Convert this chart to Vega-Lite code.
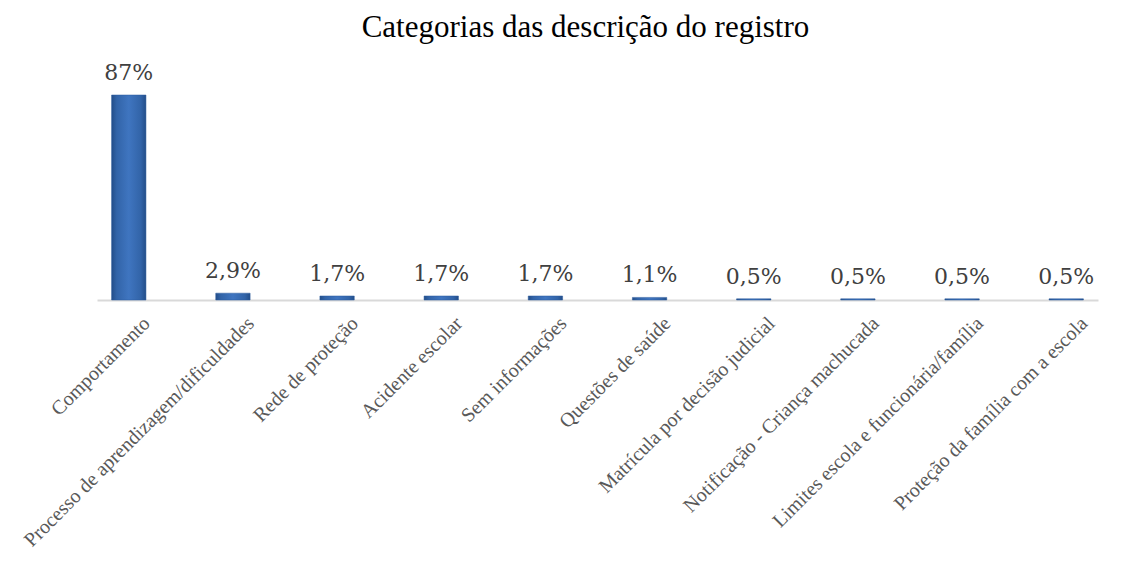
{
  "$schema": "https://vega.github.io/schema/vega-lite/v6.json",
  "autosize": "none",
  "width": 1001,
  "height": 205,
  "padding": {"left": 97, "top": 95, "right": 28, "bottom": 265},
  "background": "white",
  "view": {"stroke": null},
  "title": {
    "text": "Categorias das descrição do registro",
    "font": "Liberation Serif",
    "fontSize": 31,
    "fontWeight": "normal",
    "color": "#000000",
    "anchor": "middle",
    "dx": -12,
    "offset": 18
  },
  "data": {
    "values": [
      {"categoria": "Comportamento", "valor": 87, "rotulo": "87%"},
      {"categoria": "Processo de aprendizagem/dificuldades", "valor": 2.9, "rotulo": "2,9%"},
      {"categoria": "Rede de proteção", "valor": 1.7, "rotulo": "1,7%"},
      {"categoria": "Acidente escolar", "valor": 1.7, "rotulo": "1,7%"},
      {"categoria": "Sem informações", "valor": 1.7, "rotulo": "1,7%"},
      {"categoria": "Questões de saúde", "valor": 1.1, "rotulo": "1,1%"},
      {"categoria": "Matrícula por decisão judicial", "valor": 0.5, "rotulo": "0,5%"},
      {"categoria": "Notificação - Criança machucada", "valor": 0.5, "rotulo": "0,5%"},
      {"categoria": "Limites escola e funcionária/família", "valor": 0.5, "rotulo": "0,5%"},
      {"categoria": "Proteção da família com a escola", "valor": 0.5, "rotulo": "0,5%"}
    ]
  },
  "encoding": {
    "x": {
      "field": "categoria",
      "type": "nominal",
      "sort": null,
      "scale": {"paddingInner": 0.67, "paddingOuter": 0.14},
      "axis": {
        "title": null,
        "labelAngle": -45,
        "labelAlign": "right",
        "labelBaseline": "middle",
        "labelFont": "Liberation Serif",
        "labelFontSize": 20,
        "labelColor": "#595959",
        "labelPadding": 20,
        "labelOffset": 18,
        "labelLimit": 0,
        "ticks": false,
        "domainColor": "#d9d9d9",
        "domainWidth": 2,
        "grid": false
      }
    },
    "y": {
      "field": "valor",
      "type": "quantitative",
      "scale": {"domain": [0, 87], "nice": false},
      "axis": null
    }
  },
  "layer": [
    {
      "mark": {
        "type": "bar",
        "color": {
          "gradient": "linear",
          "x1": 0, "y1": 0, "x2": 1, "y2": 0,
          "stops": [
            {"offset": 0, "color": "#234e89"},
            {"offset": 0.15, "color": "#3264a8"},
            {"offset": 0.5, "color": "#3f75c0"},
            {"offset": 0.85, "color": "#3264a8"},
            {"offset": 1, "color": "#234e89"}
          ]
        },
        "stroke": "#2a5a9c",
        "strokeWidth": 0.5
      }
    },
    {
      "mark": {
        "type": "text",
        "baseline": "bottom",
        "dy": -10,
        "font": "DejaVu Serif",
        "fontSize": 22,
        "color": "#404040"
      },
      "encoding": {"text": {"field": "rotulo"}}
    }
  ]
}
